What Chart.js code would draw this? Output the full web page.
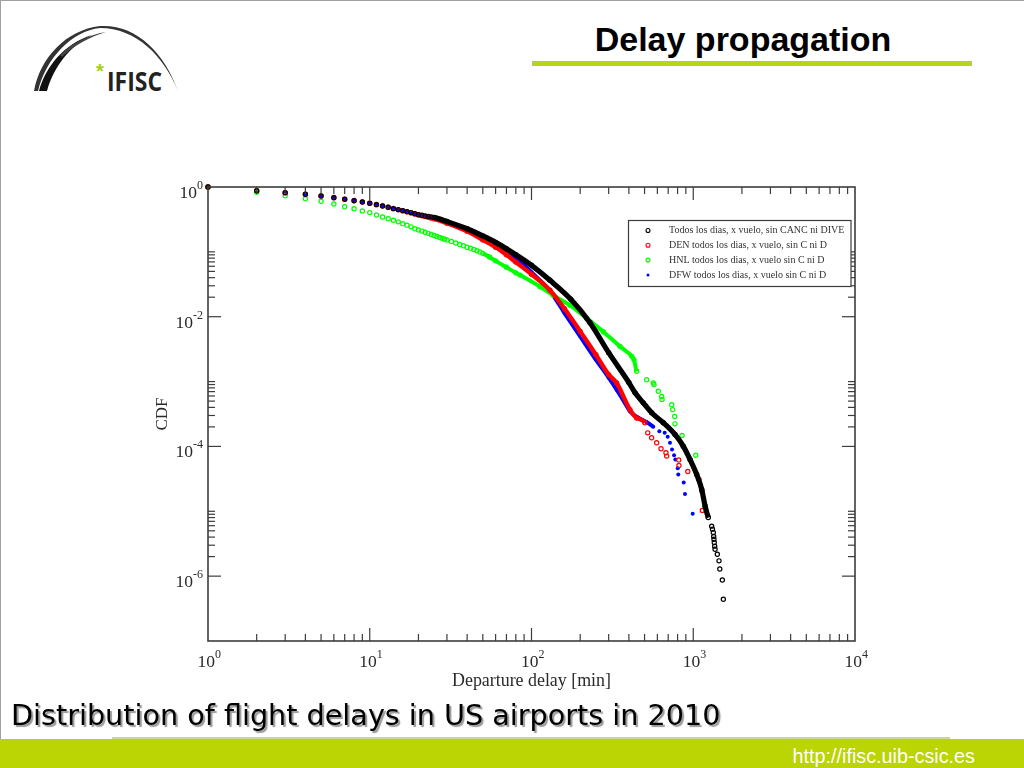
<!DOCTYPE html>
<html>
<head>
<meta charset="utf-8">
<title>Delay propagation</title>
<script src="https://cdn.jsdelivr.net/npm/chart.js@4/dist/chart.umd.min.js"></script>
<style>
  html, body { margin: 0; padding: 0; background: #fff; }
  #page { position: relative; width: 1024px; height: 768px; overflow: hidden; background: #fff; }
  #edge { position: absolute; left: 0; top: 0; width: 1024px; height: 768px; box-sizing: border-box; border-left: 1px solid #a0a0a0; border-top: 1px solid #a0a0a0; }
  #head { position: absolute; left: 532px; width: 422px; top: 20px; text-align: center; font: bold 34px "Liberation Sans", Arial, sans-serif; color: #000; }
  #rule { position: absolute; left: 532px; top: 61px; width: 440px; height: 5px; background: #b6d31e; }
  #logo { position: absolute; left: 0; top: 0; }
  #chart { position: absolute; left: 0; top: 0; }
  #caption { position: absolute; left: 11px; top: 698px; font: 28.65px "DejaVu Sans", sans-serif; color: #000; text-shadow: 2px 2px 1px #999; white-space: nowrap; }
  #band { position: absolute; left: 0; top: 739px; width: 1024px; height: 29px; background: #bbd403; }
  #bandline { position: absolute; left: 112px; top: 737px; width: 838px; height: 2px; background: #c9d6a0; }
  #url { position: absolute; right: 49px; top: 745px; font: 19.8px "Liberation Sans", Arial, sans-serif; color: #fff; }
</style>
</head>
<body>
<div id="page">
  <div id="edge"></div>
  <svg id="logo" width="200" height="110">
    <path d="M34 91 C40 58 66 30 100 26 C136 24 164 52 178 91 C164 56 136 28 100 28 C72 31 46 58 38 91 Z" fill="#333"/>
    <path d="M39 91 C46 66 64 44 92 35 C70 46 54 66 47 91 Z" fill="#111"/>
    <path d="M60 55 C72 43 88 35 106 32 C90 37 74 45 62 57 Z" fill="#444"/>
    <text x="96" y="78" font-family="Liberation Sans" font-weight="bold" font-size="20" fill="#a6ce12">*</text>
    <text x="107" y="91" font-family="Open Sans" font-weight="bold" font-size="26" textLength="55" lengthAdjust="spacingAndGlyphs" fill="#222">IFISC</text>
  </svg>
  <div id="head">Delay propagation</div>
  <div id="rule"></div>
  <canvas id="chart" width="1024" height="768"></canvas>
  <div id="caption">Distribution of flight delays in US airports in 2010</div>
  <div id="bandline"></div>
  <div id="band"></div>
  <div id="url">http://ifisc.uib-csic.es</div>
</div>
<script>
// valores
const allDelay = [1,2,3,4,5,6,7,8,9,10,11,12,13,14,15,16,17,18,19,20,21,22,23,24,25,30,40,50,60,70,80,100,130,175,230,300,400,437,491,553,653,771,867,955,1050,1128,1183,1239,1300,1315,1331,1338,1343,1349,1357,1364,1409,1443,1459,1513,1535];
const allCdf = [1,.877,.816,.773,.727,.684,.647,.615,.587,.561,.534,.510,.487,.464,.448,.432,.417,.403,.388,.375,.366,.358,.350,.345,.340,.294,.227,.176,.140,.112,.0906,.0620,.0365,.0186,.00809,.00279,.000966,6.7e-4,4.7e-4,3.3e-4,2.32e-4,1.53e-4,1.01e-4,6.3e-5,3.7e-5,2.18e-5,1.21e-5,8.0e-6,5.9e-6,5.3e-6,4.7e-6,4.1e-6,3.7e-6,3.3e-6,2.9e-6,2.6e-6,2.18e-6,1.72e-6,1.29e-6,8.7e-7,4.4e-7];

const denDelay = [1,2,3,4,5,6,7,8,9,10,11,12,13,14,15,16,17,18,19,20,21,22,23,24,25,30,40,50,60,70,80,100,130,160,200,250,300,336,406,447,503,523,553,594,632,678,685,813,816,925,1086,1132,1138];
const denCdf = [1,.880,.818,.775,.730,.687,.650,.618,.590,.563,.536,.512,.488,.465,.447,.430,.414,.399,.384,.370,.360,.350,.341,.331,.322,.277,.208,.153,.118,.090,.0695,.0451,.0256,.0133,.00594,.0026,.00128,9.5e-4,3.7e-4,2.75e-4,2.32e-4,1.62e-4,1.36e-4,1.14e-4,9.2e-5,8.0e-5,7.1e-5,6.2e-5,5.1e-5,4.1e-5,3.1e-5,2.05e-5,1.03e-5];

const hnlDelay = [1,2,3,4,5,6,7,8,9,10,11,12,13,14,15,16,17,18,19,20,21,22,23,24,25,26,27,28,29,30,32,34,36,38,40,42,44,46,48,50,55,60,70,80,85,113,136,173,219,278,352,417,430,447,515,566,572,608,638,641,736,746,768,771,852,1036];
const hnlCdf = [1,.828,.735,.661,.603,.547,.498,.464,.427,.403,.371,.345,.325,.307,.290,.272,.258,.243,.228,.218,.209,.201,.193,.186,.179,.173,.167,.162,.157,.153,.145,.137,.130,.124,.118,.114,.109,.104,.0995,.0948,.0832,.0727,.0578,.0475,.0438,.029,.0214,.015,.0095,.00587,.00349,.00245,.00218,.00144,.00107,9.5e-4,9.0e-4,7.1e-4,5.9e-4,5.3e-4,4.4e-4,3.7e-4,2.9e-4,2.23e-4,1.48e-4,7.3e-5];

const dfwDelay = [1,2,3,4,5,6,7,8,9,10,11,12,13,14,15,16,17,18,19,20,21,22,23,24,25,30,40,50,60,70,80,100,130,160,200,250,300,336,378,406,457,515,566,617,666,695,718,739,761,775,802,808,873,889,992];
const dfwCdf = [1,.875,.815,.772,.728,.686,.650,.618,.590,.564,.537,.513,.490,.468,.451,.436,.421,.407,.392,.379,.369,.360,.351,.344,.337,.292,.220,.163,.128,.101,.0809,.0484,.0250,.0114,.00498,.00218,.00115,7.5e-4,4.7e-4,3.5e-4,2.77e-4,2.37e-4,2.01e-4,1.72e-4,1.62e-4,1.41e-4,1.14e-4,9.0e-5,7.3e-5,6.3e-5,4.6e-5,3.7e-5,2.77e-5,1.85e-5,9.2e-6];

const seriesLabels = ['Todos los dias, x vuelo, sin CANC ni DIVE', 'DEN todos los dias, x vuelo, sin C ni D', 'HNL todos los dias, x vuelo sin C ni D', 'DFW todos los dias, x vuelo sin C ni D'];
const xDecades = [1, 10, 100, 1000, 10000];
const xExponents = ['0', '1', '2', '3', '4'];
const yDecades = [1, 1e-2, 1e-4, 1e-6];
const yExponents = ['0', '-2', '-4', '-6'];
const yMinorDecades = [1e-2, 1e-4, 1e-6];
const xLabel = 'Departure delay [min]';
const yLabel = 'CDF';

const axisColor = '#3c3c3c';
const textColor = '#2a2a2a';
const serif = '"Liberation Serif", serif';

function points(xs, ys) {
  return xs.map((x, i) => ({ x: x, y: ys[i] }));
}

// la parte densa se ve como una banda: solo ahi se unen los puntos
function band(color, from, to) {
  return ctx => (ctx.p0.parsed.x >= from && ctx.p1.parsed.x <= to) ? color : 'transparent';
}

function series(label, xs, ys, color, from, to, width, filled) {
  return {
    label: label,
    data: points(xs, ys),
    showLine: true,
    cubicInterpolationMode: 'monotone',
    borderColor: color,
    borderWidth: width,
    segment: { borderColor: band(color, from, to) },
    pointBorderColor: color,
    pointBackgroundColor: filled ? color : 'transparent',
    pointBorderWidth: filled ? 0 : 1.2,
    pointRadius: filled ? 2 : 2.1,
    clip: false
  };
}

function ticksOn(chart, ctx) {
  const xs = chart.scales.x, ys = chart.scales.y, a = chart.chartArea;
  ctx.save();
  ctx.strokeStyle = axisColor;
  ctx.lineWidth = 1.2;
  const line = (x1, y1, x2, y2) => { ctx.beginPath(); ctx.moveTo(x1, y1); ctx.lineTo(x2, y2); ctx.stroke(); };
  xDecades.forEach((d, i) => {
    const px = xs.getPixelForValue(d);
    if (i > 0 && i < xDecades.length - 1) {
      line(px, a.bottom, px, a.bottom - 13);
      line(px, a.top, px, a.top + 13);
    }
    if (i < xDecades.length - 1) {
      for (let k = 2; k < 10; k++) {
        const p = xs.getPixelForValue(d * k);
        line(p, a.bottom, p, a.bottom - 7);
        line(p, a.top, p, a.top + 7);
      }
    }
  });
  yDecades.forEach((d, i) => {
    if (i === 0) return;
    const py = ys.getPixelForValue(d);
    line(a.left, py, a.left + 13, py);
    line(a.right, py, a.right - 13, py);
  });
  yMinorDecades.forEach(d => {
    for (let k = 2; k <= 10; k++) {
      const p = ys.getPixelForValue(d * k);
      line(a.left, p, a.left + 7, p);
      line(a.right, p, a.right - 7, p);
    }
  });
  ctx.lineWidth = 1.6;
  ctx.strokeRect(a.left, a.top, a.right - a.left, a.bottom - a.top);
  ctx.restore();
}

function powerLabel(ctx, right, baseline, exp) {
  ctx.font = '12px ' + serif;
  const w = ctx.measureText(exp).width;
  ctx.textAlign = 'left';
  ctx.fillText(exp, right - w, baseline - 9);
  ctx.font = '17.5px ' + serif;
  ctx.textAlign = 'right';
  ctx.fillText('10', right - w, baseline);
}

function labelsOn(chart, ctx) {
  const xs = chart.scales.x, ys = chart.scales.y;
  ctx.save();
  ctx.fillStyle = textColor;
  ctx.textBaseline = 'alphabetic';
  xDecades.forEach((d, i) => powerLabel(ctx, xs.getPixelForValue(d) + 13, 667, xExponents[i]));
  yDecades.forEach((d, i) => powerLabel(ctx, 203, ys.getPixelForValue(d) + 11, yExponents[i]));
  ctx.restore();
}

function legendOn(chart, ctx) {
  ctx.save();
  ctx.fillStyle = '#fff';
  ctx.fillRect(628.5, 220.5, 222.5, 66);
  ctx.strokeStyle = axisColor;
  ctx.lineWidth = 1.2;
  ctx.strokeRect(628.5, 220.5, 222.5, 66);
  ctx.font = '10px ' + serif;
  ctx.textAlign = 'left';
  ctx.textBaseline = 'middle';
  chart.data.datasets.forEach((ds, i) => {
    const y = 230.5 + i * 14.8;
    ctx.beginPath();
    ctx.arc(648, y, ds.pointBorderWidth ? 2 : 1.5, 0, Math.PI * 2);
    if (ds.pointBorderWidth) {
      ctx.strokeStyle = ds.pointBorderColor;
      ctx.lineWidth = 1.1;
      ctx.stroke();
    } else {
      ctx.fillStyle = ds.pointBackgroundColor;
      ctx.fill();
    }
    ctx.fillStyle = '#333';
    ctx.fillText(ds.label, 669, y);
  });
  ctx.restore();
}

const decorations = {
  id: 'decorations',
  afterDatasetsDraw(chart) {
    const ctx = chart.ctx;
    ticksOn(chart, ctx);
    labelsOn(chart, ctx);
    legendOn(chart, ctx);
  }
};

new Chart(document.getElementById('chart'), {
  type: 'scatter',
  data: {
    datasets: [
      series(seriesLabels[0], allDelay, allCdf, '#000000', 25, 1240, 5.2, false),
      series(seriesLabels[1], denDelay, denCdf, '#ff0000', 25, 505, 4.4, false),
      series(seriesLabels[2], hnlDelay, hnlCdf, '#00ff00', 50, 450, 4, false),
      series(seriesLabels[3], dfwDelay, dfwCdf, '#0000ff', 25, 570, 4, true)
    ]
  },
  options: {
    responsive: false,
    animation: false,
    layout: { padding: { left: 152, top: 187, right: 169, bottom: 76 } },
    plugins: { legend: { display: false }, tooltip: { enabled: false } },
    scales: {
      x: {
        type: 'logarithmic',
        min: 1,
        max: 10000,
        grid: { display: false },
        border: { display: false },
        ticks: { display: false },
        title: { display: true, text: xLabel, color: textColor, font: { family: serif, size: 17.9 }, padding: 0 },
        afterFit(scale) { scale.height = 51; }
      },
      y: {
        type: 'logarithmic',
        min: 1e-7,
        max: 1,
        grid: { display: false },
        border: { display: false },
        ticks: { display: false },
        title: { display: true, text: yLabel, color: textColor, font: { family: serif, size: 17 }, padding: 0 },
        afterFit(scale) { scale.width = 56; }
      }
    }
  },
  plugins: [decorations]
});
</script>
</body>
</html>
